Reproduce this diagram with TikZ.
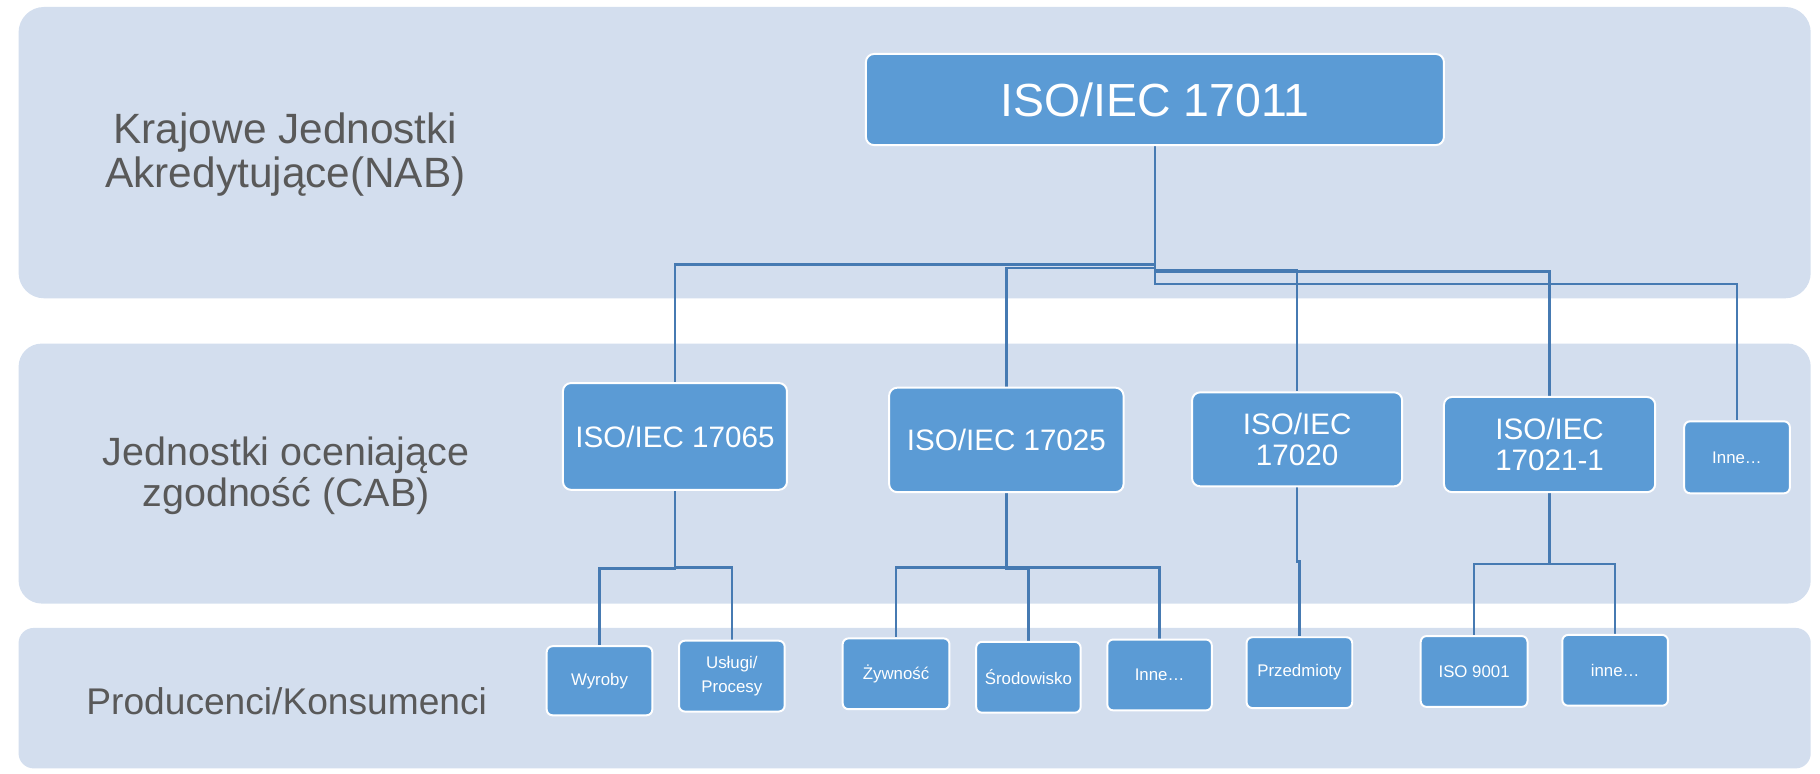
\documentclass[tikz,border=0pt]{standalone}
\usepackage{fontspec}
\setmainfont{Liberation Sans}
\definecolor{bandfill}{RGB}{211,222,238}
\definecolor{boxfill}{RGB}{91,155,213}
\definecolor{linecol}{RGB}{70,122,178}
\definecolor{lblcol}{RGB}{89,89,89}
\pgfdeclarelayer{bg}
\pgfdeclarelayer{mid}
\pgfsetlayers{bg,mid,main}
\begin{document}
\begin{tikzpicture}[x=1pt,y=-1pt,
  band/.style={fill=bandfill, draw=none},
  box/.style={draw=white, line width=1.7pt, fill=boxfill, rounded corners=7pt, inner sep=0pt, text=white, align=center},
  smallbox/.style={box, rounded corners=5pt, font=\fontsize{14.5}{20}\selectfont},
  midbox/.style={box, font=\fontsize{25.5}{26.5}\selectfont},
  conn/.style={draw=linecol, line width=2pt},
  lbl/.style={text=lblcol, align=center, inner sep=0pt}]
\useasboundingbox (0,0) rectangle (1568,666);

\begin{pgfonlayer}{bg}
\fill[band, rounded corners=22pt] (16,6) rectangle (1560,257);
\fill[band, rounded corners=20pt] (16,296) rectangle (1560,520);
\fill[band, rounded corners=13pt] (16,541) rectangle (1560,662);
\end{pgfonlayer}

% left labels
\node[lbl, font=\fontsize{36.5}{37.5}\selectfont] (lblnab) at (246,133) {Krajowe Jednostki\\Akredytujące(NAB)};
\node[lbl, font=\fontsize{34}{35}\selectfont] (lblcab) at (246.5,410) {Jednostki oceniające\\zgodność (CAB)};
\node[lbl, font=\fontsize{32}{35}\selectfont] (lblpk) at (247,604.5) {Producenci/Konsumenci};

% top
\node[box, minimum width=498pt, minimum height=78.5pt, font=\fontsize{40}{44}\selectfont] (n17011) at (995,85.75) {ISO/IEC 17011};

% middle row
\node[midbox, minimum width=193pt, minimum height=92pt] (n17065) at (581.5,376) {ISO/IEC 17065};
\node[midbox, minimum width=202pt, minimum height=90pt] (n17025) at (867,379) {ISO/IEC 17025};
\node[midbox, minimum width=181pt, minimum height=81pt] (n17020) at (1117.5,378.5) {ISO/IEC\\17020};
\node[midbox, minimum width=182pt, minimum height=82pt] (n17021) at (1335,383) {ISO/IEC\\17021-1};
\node[smallbox, minimum width=91pt, minimum height=62pt] (ninnea) at (1496.5,394) {Inne…};

% bottom row
\node[smallbox, minimum width=91pt, minimum height=59.5pt] (nwyroby) at (516.5,586.5) {Wyroby};
\node[smallbox, minimum width=91pt, minimum height=61pt] (nuslugi) at (630.5,582.5) {Usługi/\\Procesy};
\node[smallbox, minimum width=92pt, minimum height=61pt] (nzywnosc) at (772,580.5) {Żywność};
\node[smallbox, minimum width=90pt, minimum height=61pt] (nsrod) at (886,583.5) {Środowisko};
\node[smallbox, minimum width=90pt, minimum height=61pt] (ninneb) at (999,581.5) {Inne…};
\node[smallbox, minimum width=91pt, minimum height=61pt] (nprzed) at (1119.5,579.5) {Przedmioty};
\node[smallbox, minimum width=92pt, minimum height=61pt] (niso) at (1270,578.5) {ISO 9001};
\node[smallbox, minimum width=91pt, minimum height=61pt] (ninnec) at (1391.5,577.5) {inne…};

\begin{pgfonlayer}{mid}
\draw[conn] (n17011.south) -- ++(0,102) -| (n17065.north);
\draw[conn] (n17011.south) -- ++(0,105) -| (n17025.north);
\draw[conn] (n17011.south) -- ++(0,107) -| (n17020.north);
\draw[conn] (n17011.south) -- ++(0,108) -| (n17021.north);
\draw[conn] (n17011.south) -- ++(0,119) -| (ninnea.north);

\draw[conn] (n17065.south) -- ++(0,67) -| (nwyroby.north);
\draw[conn] (n17065.south) -- ++(0,66) -| (nuslugi.north);
\draw[conn] (n17025.south) -- ++(0,64) -| (nzywnosc.north);
\draw[conn] (n17025.south) -- ++(0,65) -| (nsrod.north);
\draw[conn] (n17025.south) -- ++(0,64) -| (ninneb.north);
\draw[conn] (n17020.south) -- ++(0,64) -| (nprzed.north);
\draw[conn] (n17021.south) -- ++(0,61) -| (niso.north);
\draw[conn] (n17021.south) -- ++(0,61) -| (ninnec.north);
\end{pgfonlayer}
\end{tikzpicture}
\end{document}
